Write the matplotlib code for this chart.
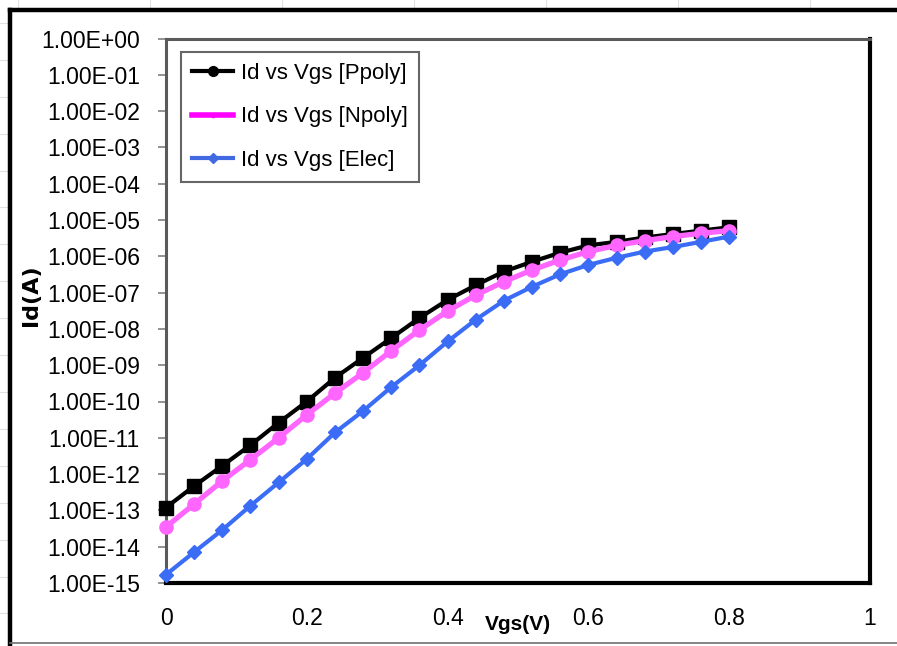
import matplotlib
matplotlib.use("Agg")
import matplotlib.pyplot as plt
from matplotlib.lines import Line2D
from matplotlib.patches import Rectangle

plt.rcParams['font.family'] = ['Liberation Sans', 'DejaVu Sans']

# Gate voltage sweep (V)
vgs = [0.00, 0.04, 0.08, 0.12, 0.16, 0.20, 0.24, 0.28, 0.32, 0.36, 0.40,
       0.44, 0.48, 0.52, 0.56, 0.60, 0.64, 0.68, 0.72, 0.76, 0.80]

# Drain current (A) for each gate type
id_ppoly = [1.2e-13, 4.7e-13, 1.7e-12, 6.3e-12, 2.6e-11, 1.0e-10, 4.5e-10,
            1.6e-09, 5.6e-09, 2.0e-08, 6.3e-08, 1.6e-07, 3.8e-07, 7.1e-07,
            1.26e-06, 2.0e-06, 2.5e-06, 3.3e-06, 4.1e-06, 5.1e-06, 6.3e-06]
id_npoly = [3.5e-14, 1.5e-13, 6.5e-13, 2.5e-12, 1.0e-11, 4.3e-11, 1.7e-10,
            6.2e-10, 2.5e-09, 9.3e-09, 3.1e-08, 8.5e-08, 2.0e-07, 4.2e-07,
            7.9e-07, 1.35e-06, 2.0e-06, 2.7e-06, 3.5e-06, 4.3e-06, 5.1e-06]
id_elec = [1.7e-15, 7.1e-15, 2.9e-14, 1.35e-13, 5.9e-13, 2.6e-12, 1.4e-11,
           5.5e-11, 2.5e-10, 1.0e-09, 4.5e-09, 1.8e-08, 6.0e-08, 1.45e-07,
           3.2e-07, 5.8e-07, 9.1e-07, 1.35e-06, 1.8e-06, 2.5e-06, 3.5e-06]

series_labels = ["Id vs Vgs [Ppoly]", "Id vs Vgs [Npoly]", "Id vs Vgs [Elec]"]
x_ticks = [0, 0.2, 0.4, 0.6, 0.8, 1]
x_tick_labels = ["0", "0.2", "0.4", "0.6", "0.8", "1"]
y_exponents = list(range(0, -16, -1))

W, H = 897, 646
fig = plt.figure(figsize=(W / 100, H / 100), dpi=100)
fig.patch.set_facecolor('white')


def fx(px):
    return px / W


def fy(py):
    return 1 - py / H


# worksheet cell grid behind the chart object
grid_col = '#e0e0e0'
for gx in [18, 150, 282, 414, 546, 678, 810]:
    fig.add_artist(Line2D([fx(gx), fx(gx)], [fy(0), fy(10)], color=grid_col,
                          lw=0.8, transform=fig.transFigure))
for k in range(18):
    gy = 23 + 36.9 * k
    fig.add_artist(Line2D([fx(0), fx(10)], [fy(gy), fy(gy)], color=grid_col,
                          lw=0.8, transform=fig.transFigure))

# chart object frame
fig.add_artist(Rectangle((fx(10), fy(643)), fx(900) - fx(10), fy(10) - fy(643),
                         facecolor='white', edgecolor='none',
                         transform=fig.transFigure, zorder=0))
fig.add_artist(Line2D([fx(10), fx(900)], [fy(10), fy(10)], color='black',
                      lw=3.2, transform=fig.transFigure))
fig.add_artist(Line2D([fx(10), fx(10)], [fy(10), fy(645)], color='black',
                      lw=3.2, transform=fig.transFigure))
fig.add_artist(Line2D([fx(10), fx(900)], [fy(643), fy(643)], color='#707070',
                      lw=1.2, transform=fig.transFigure))

ax = fig.add_axes([fx(166), fy(583), fx(870) - fx(166), fy(38.5) - fy(583)])
ax.set_facecolor('white')

ax.plot(vgs, id_ppoly, color='black', lw=3, marker='s', ms=10.5,
        clip_on=False, zorder=3)
ax.plot(vgs, id_npoly, color='#ff66ff', lw=3.8, marker='o', ms=9.5,
        clip_on=False, zorder=4)
ax.plot(vgs, id_elec, color='#3b6cf6', lw=3, marker='D', ms=7.5,
        clip_on=False, zorder=5)

ax.set_yscale('log')
ax.set_ylim(1e-15, 1)
ax.set_xlim(0, 1)
ax.set_yticks([10.0 ** e for e in y_exponents])
ax.set_yticklabels([f"{10.0 ** e:.2E}" for e in y_exponents])
ax.yaxis.set_minor_locator(matplotlib.ticker.NullLocator())
ax.set_xticks(x_ticks)
ax.set_xticklabels(x_tick_labels)

ax.tick_params(axis='y', direction='out', length=5.8, width=1.2,
               color='#808080', pad=13, labelsize=16.5)
ax.tick_params(axis='x', length=0, pad=17, labelsize=16.5)

for side in ['top', 'left']:
    ax.spines[side].set_color('#5a5a5a')
    ax.spines[side].set_linewidth(2.2)
for side in ['right', 'bottom']:
    ax.spines[side].set_color('black')
    ax.spines[side].set_linewidth(3)

# axis titles
fig.text(fx(31), fy(295), "Id(A)", fontsize=16, fontweight='bold',
         family=['DejaVu Sans'], rotation=90, ha='center', va='center')
fig.text(fx(518), fy(625), "Vgs(V)", fontsize=15, fontweight='bold',
         ha='center', va='center')

handles = [
    Line2D([], [], color='black', lw=3, marker='o', ms=7),
    Line2D([], [], color='#ff00ff', lw=4, marker='o', ms=3),
    Line2D([], [], color='#4169e1', lw=3, marker='D', ms=5),
]
leg = ax.legend(handles, series_labels, loc='upper left',
                bbox_to_anchor=((181 - 166) / 704, (583 - 52) / 544.5),
                borderaxespad=0, fontsize=16, frameon=True, fancybox=False,
                handlelength=1.85, handletextpad=0.35, labelspacing=1.0,
                borderpad=0.5)
leg.get_frame().set_edgecolor('#404040')
leg.get_frame().set_linewidth(1.5)

fig.savefig("out.png", dpi=100, facecolor='white')
